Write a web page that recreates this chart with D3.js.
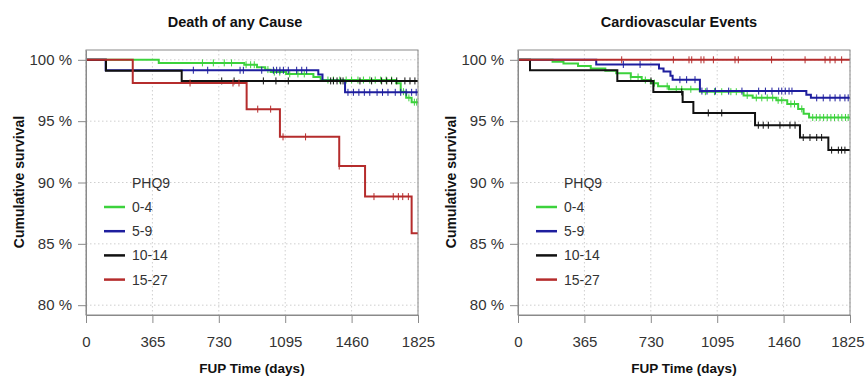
<!DOCTYPE html>
<html>
<head>
<meta charset="utf-8">
<script src="https://cdn.jsdelivr.net/npm/d3@7"></script>
<style>
  body { margin: 0; background: #fff; }
  svg { display: block; font-family: "Liberation Sans", Arial, sans-serif; }
</style>
</head>
<body>
<svg id="chart" width="866" height="381"></svg>
<script>
// Groups and tick labels
const groups = ["0-4", "5-9", "10-14", "15-27"];
const xTicks = [0, 365, 730, 1095, 1460, 1825];
const yTicks = [80, 85, 90, 95, 100];
const maxDay = 1825;

// Death of any cause: [day, survival %] where the curve steps, plus censor days
const deathSteps04 = [[0, 100], [400, 99.75], [870, 99.6], [940, 99.4], [985, 99.2], [1015, 99.0], [1100, 98.85], [1250, 98.6], [1290, 98.35], [1705, 98.1], [1730, 97.4], [1760, 96.9], [1790, 96.55]];
const deathCens04 = [640, 700, 760, 800, 880, 905, 925, 1000, 1035, 1065, 1120, 1165, 1200, 1330, 1360, 1395, 1430, 1460, 1495, 1525, 1560, 1590, 1620, 1650, 1680, 1745, 1775, 1805, 1818];
const deathSteps59 = [[0, 100], [108, 99.15], [1277, 98.8], [1300, 98.3], [1424, 97.35]];
const deathCens59 = [590, 669, 847, 865, 966, 1030, 1048, 1066, 1085, 1112, 1158, 1186, 1213, 1440, 1470, 1500, 1530, 1560, 1600, 1630, 1660, 1700, 1730, 1760, 1790, 1815];
const deathSteps1014 = [[0, 100], [110, 99.1], [526, 98.28]];
const deathCens1014 = [746, 814, 975, 1044, 1112, 1345, 1360, 1380, 1400, 1413, 1506, 1570, 1625, 1653, 1680, 1708, 1753, 1781, 1808];
const deathSteps1527 = [[0, 100], [257, 98.11], [883, 95.98], [1066, 93.72], [1392, 91.34], [1534, 88.85], [1790, 85.87]];
const deathCens1527 = [572, 808, 841, 944, 1015, 1083, 1207, 1392, 1583, 1689, 1717, 1741, 1772];

// Cardiovascular events
const cvSteps04 = [[0, 100], [190, 99.85], [250, 99.7], [330, 99.5], [400, 99.3], [480, 99.1], [540, 98.9], [620, 98.6], [680, 98.35], [730, 98.1], [770, 97.85], [830, 97.6], [1000, 97.4], [1240, 97.1], [1290, 96.9], [1420, 96.7], [1480, 96.4], [1540, 96.0], [1570, 95.6], [1600, 95.3]];
const cvCens04 = [620, 660, 700, 750, 820, 870, 900, 950, 1030, 1080, 1120, 1170, 1200, 1260, 1310, 1340, 1370, 1400, 1430, 1450, 1500, 1520, 1560, 1620, 1640, 1660, 1680, 1700, 1720, 1740, 1760, 1780, 1800, 1815];
const cvSteps59 = [[0, 100], [430, 99.62], [775, 99.3], [800, 99.05], [838, 98.7], [850, 98.38], [1000, 97.45], [1585, 97.15], [1610, 96.9]];
const cvCens59 = [579, 671, 890, 927, 973, 1011, 1039, 1085, 1158, 1231, 1323, 1360, 1396, 1433, 1450, 1469, 1490, 1506, 1642, 1678, 1715, 1743, 1770, 1797, 1815];
const cvSteps1014 = [[0, 100], [66, 99.15], [546, 98.28], [744, 97.38], [905, 96.57], [964, 95.67], [1303, 94.67], [1550, 93.67], [1706, 92.64]];
const cvCens1014 = [731, 900, 1046, 1120, 1321, 1348, 1376, 1440, 1495, 1523, 1568, 1605, 1642, 1669, 1724, 1761, 1779, 1797];
const cvSteps1527 = [[0, 100]];
const cvCens1527 = [570, 854, 940, 955, 1006, 1022, 1074, 1193, 1211, 1394, 1578, 1688, 1715, 1743, 1779];

const colors = ["#3cd23c", "#1e1e9e", "#111111", "#b52c2c"];

const panels = [
  { title: "Death of any Cause", left: 86, titleX: 235,
    steps: [deathSteps04, deathSteps59, deathSteps1014, deathSteps1527],
    cens: [deathCens04, deathCens59, deathCens1014, deathCens1527] },
  { title: "Cardiovascular Events", left: 518, titleX: 679,
    steps: [cvSteps04, cvSteps59, cvSteps1014, cvSteps1527],
    cens: [cvCens04, cvCens59, cvCens1014, cvCens1527] }
];

const plotW = 332, plotTop = 50, plotBottom = 315;
const svg = d3.select("#chart");

function survAt(steps, t) {
  let s = steps[0][1];
  steps.forEach(d => { if (d[0] <= t) s = d[1]; });
  return s;
}

panels.forEach(p => {
  const x = d3.scaleLinear().domain([0, maxDay]).range([p.left, p.left + plotW]);
  const y = d3.scaleLinear().domain([79.2, 100.8]).range([plotBottom, plotTop]);
  const g = svg.append("g");

  // grid
  g.selectAll(".vgrid").data(xTicks).enter().append("line")
    .attr("x1", d => x(d)).attr("x2", d => x(d))
    .attr("y1", plotTop).attr("y2", plotBottom)
    .attr("stroke", "#cfcfcf").attr("stroke-dasharray", "1.5,2.5");
  g.selectAll(".hgrid").data(yTicks).enter().append("line")
    .attr("x1", p.left).attr("x2", p.left + plotW)
    .attr("y1", d => y(d)).attr("y2", d => y(d))
    .attr("stroke", "#cfcfcf").attr("stroke-dasharray", "1.5,2.5");

  const line = d3.line()
    .x(d => x(d[0])).y(d => y(d[1]))
    .curve(d3.curveStepAfter);

  p.steps.forEach((steps, i) => {
    const pts = steps.concat([[maxDay, steps[steps.length - 1][1]]]);
    g.append("path")
      .attr("d", line(pts))
      .attr("fill", "none")
      .attr("stroke", colors[i])
      .attr("stroke-width", 2);
    g.selectAll(null).data(p.cens[i]).enter().append("line")
      .attr("x1", d => x(d)).attr("x2", d => x(d))
      .attr("y1", d => y(survAt(steps, d)) - 3.5)
      .attr("y2", d => y(survAt(steps, d)) + 3.5)
      .attr("stroke", colors[i])
      .attr("stroke-width", 1);
  });

  // box
  g.append("rect")
    .attr("x", p.left).attr("y", plotTop)
    .attr("width", plotW).attr("height", plotBottom - plotTop)
    .attr("fill", "none").attr("stroke", "#8a8a8a");

  // axes
  const yAxis = g.append("g")
    .attr("transform", `translate(${p.left},0)`)
    .call(d3.axisLeft(y).tickValues(yTicks).tickSize(8).tickSizeOuter(0).tickPadding(6)
      .tickFormat(d => d + " %"));
  const xAxis = g.append("g")
    .attr("transform", `translate(0,${plotBottom})`)
    .call(d3.axisBottom(x).tickValues(xTicks).tickSize(8).tickSizeOuter(0).tickPadding(13)
      .tickFormat(d3.format("d")));
  [yAxis, xAxis].forEach(a => {
    a.select(".domain").attr("stroke", "#8a8a8a");
    a.selectAll(".tick line").attr("stroke", "#8a8a8a");
    a.selectAll("text").attr("fill", "#333").style("font-size", "15px")
      .style("font-family", "'Liberation Sans', Arial, sans-serif");
  });
  // keep the last label inside the page on the right panel
  xAxis.selectAll(".tick text")
    .filter(d => d === maxDay && x(d) + 18 > 864)
    .attr("text-anchor", "end").attr("x", 864 - x(maxDay));

  // titles
  g.append("text")
    .attr("x", p.titleX).attr("y", 27)
    .attr("text-anchor", "middle")
    .style("font-size", "14.5px").style("font-weight", "bold")
    .attr("fill", "#111")
    .text(p.title);
  g.append("text")
    .attr("x", p.left + plotW / 2).attr("y", 373)
    .attr("text-anchor", "middle")
    .style("font-size", "13.5px").style("font-weight", "bold")
    .attr("fill", "#111")
    .text("FUP Time (days)");
  g.append("text")
    .attr("transform", `translate(${p.left - 62},182) rotate(-90)`)
    .attr("text-anchor", "middle")
    .style("font-size", "14px").style("font-weight", "bold")
    .attr("fill", "#111")
    .text("Cumulative survival");

  // legend
  const lg = g.append("g").attr("transform", `translate(${p.left + 18},183)`);
  lg.append("text")
    .attr("x", 28).attr("y", 0).attr("dy", "0.35em")
    .style("font-size", "14px").attr("fill", "#333")
    .text("PHQ9");
  groups.forEach((name, i) => {
    const yy = 24 + i * 24.2;
    lg.append("line")
      .attr("x1", 0).attr("x2", 21)
      .attr("y1", yy).attr("y2", yy)
      .attr("stroke", colors[i]).attr("stroke-width", 2.5);
    lg.append("text")
      .attr("x", 28).attr("y", yy).attr("dy", "0.35em")
      .style("font-size", "14px").attr("fill", "#333")
      .text(name);
  });
});
</script>
</body>
</html>
